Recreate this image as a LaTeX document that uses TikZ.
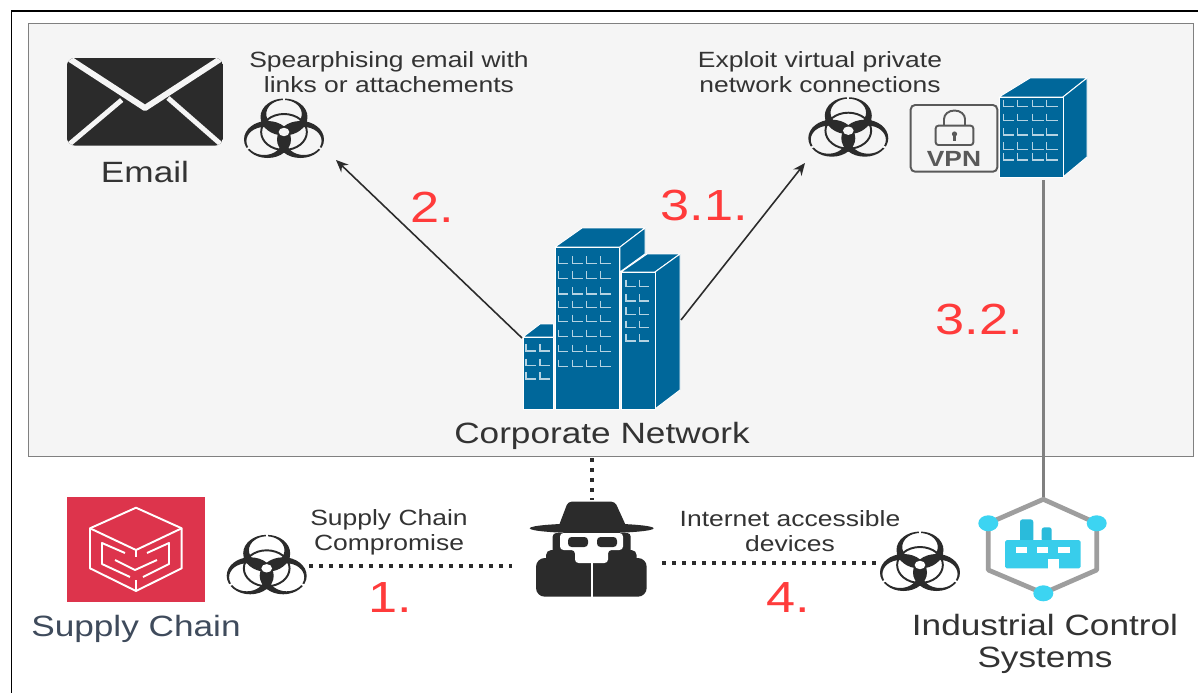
\documentclass[tikz,border=0pt]{standalone}
\usepackage{fontspec}
\setmainfont[FakeStretch=1.2]{Liberation Sans}
\usetikzlibrary{arrows.meta}
\definecolor{panel}{HTML}{F5F5F5}
\definecolor{ink}{HTML}{2B2B2B}
\definecolor{txt}{HTML}{333333}
\definecolor{bldg}{HTML}{00679A}
\definecolor{win}{HTML}{B5D3E2}
\definecolor{redtxt}{HTML}{FF3B3B}
\definecolor{awsred}{HTML}{DD344C}
\definecolor{slate}{HTML}{3F4B5C}
\definecolor{cyandot}{HTML}{3CD4F2}
\definecolor{stack}{HTML}{2ABBDB}
\definecolor{fact}{HTML}{38CDEB}
\tikzset{
  x=0.02cm,y=-0.02cm,
  lab/.style={font=\fontsize{12.55pt}{14pt}\selectfont,text=txt,align=center,inner sep=0pt},
  big/.style={font=\fontsize{16.7pt}{18pt}\selectfont,text=txt,align=center,inner sep=0pt},
  num/.style={font=\fontsize{24.8pt}{26pt}\selectfont,text=redtxt,inner sep=0pt},
  dots/.style={line width=2pt,dash pattern=on 2.2pt off 3.5pt,draw=ink},
  arrowline/.style={draw=ink,line width=0.9pt,-{Stealth[length=7pt,width=6pt]}},
  bface/.style={fill=bldg,draw=white,line width=0.55pt,line join=round},
}
\newcommand{\winrow}[3]{% x list, y list, width
  \foreach \wx in {#1}\foreach \wy in {#2}
    \draw[win,line width=0.75pt] (\wx,\wy-7) -- (\wx,\wy) -- (\wx+#3,\wy);}
\newcommand{\biohaz}[3]{% x,y,bg
  \begin{scope}[shift={(#1,#2)},xscale=1.27]
    \foreach \a in {270,30,150}{
      \fill[ink,even odd rule] (\a:15) circle[radius=18.5] (\a:18) circle[radius=14];
    }
    \draw[ink,line width=1.1pt] (0,0) circle[radius=18];
    \foreach \a in {90,210,330}{
      \fill[ink] (\a-18:3) -- (\a-6:21) -- (\a+6:21) -- (\a+18:3) -- cycle;
    }
    \foreach \a in {270,30,150}{
      \draw[#3,line width=1.1pt] (\a:30.5) -- (\a:35);
    }
    \fill[#3] (0,0) circle[radius=4.2];
  \end{scope}}
\begin{document}
\begin{tikzpicture}
\useasboundingbox (0,0) rectangle (1198,693);
\fill[white] (0,0) rectangle (1198,693);
% outer frame
\draw[black,line width=0.75pt] (11.5,693) -- (11.5,11) -- (1198,11);
% panel
\node[draw=black!50,line width=0.8pt,fill=panel,minimum width=0.02cm*1165,minimum height=0.02cm*433,inner sep=0pt,anchor=north west] (panel) at (28,23) {};

% ---------- email
\begin{scope}
  \clip[rounded corners=5pt] (66.7,57.7) rectangle (223.3,145.7);
  \fill[ink] (66.7,57.7) rectangle (223.3,145.7);
  \draw[panel,line width=3.4pt,line join=round] (62,54) -- (145,108) -- (228,54);
  \draw[panel,line width=2.8pt] (121.7,100) -- (66,147);
  \draw[panel,line width=2.8pt] (168,98) -- (224,147);
\end{scope}
\node[big] (email) at (145,172) {Email};
\biohaz{284}{132}{panel}
\node[lab] (spear) at (389,72) {Spearphising email with\\links or attachements};

% ---------- VPN
\biohaz{848.3}{130.7}{panel}
\node[lab] (vpnlabel) at (820,72) {Exploit virtual private\\network connections};
\draw[rounded corners=2.5pt,draw=black!65,line width=1.1pt,fill=panel] (910.7,105) rectangle (997.3,171.7);
\draw[black!65,line width=1.1pt,rounded corners=1.5pt] (935.7,125.7) rectangle (973.3,145);
\draw[black!65,line width=1.1pt] (944,125.7) -- (944,119) arc[start angle=180,end angle=360,x radius=10.5,y radius=8.5] -- (965,125.7);
\fill[black!65] (954.5,134) circle[radius=2.6];
\fill[black!65] (952.8,134) rectangle (956.2,141);
\node[font=\bfseries\fontsize{12.5pt}{14pt}\selectfont,text=black!65,inner sep=0pt] (vpntxt) at (954,159) {VPN};
\path[bface] (999,97) -- (1030,78) -- (1087,78) -- (1063,97) -- cycle;
\path[bface] (1063,97) -- (1087,78) -- (1087,157) -- (1063,177) -- cycle;
\path[bface] (999,97) rectangle (1063,177);
\winrow{1003.3,1017.3,1032.7,1046.7}{106.7,120.7,135,149.3,160}{11}
\coordinate (vpnbottom) at (1043.5,180);

% ---------- corporate
\path[bface] (555,247) -- (582,228) -- (645,228) -- (620,247) -- cycle;
\path[bface] (620,247) -- (645,228) -- (645,254) -- (620,272) -- cycle;
\path[bface] (555,247) rectangle (619.5,409);
\path[bface] (621,272) -- (647,254) -- (680,254) -- (655,272) -- cycle;
\path[bface] (655,272) -- (680,254) -- (680,390) -- (655,409) -- cycle;
\path[bface] (621,272) rectangle (655,409);
\path[bface] (523,337) -- (540,324) -- (553.5,324) -- (553.5,337) -- cycle;
\path[bface] (523,337) rectangle (553.5,409);
\winrow{558.3,572.7,586.7,600.7}{263.3,278.3,294,307.7,321.7,336.7,351.7,366.7}{10}
\winrow{626,639.3}{286.7,301,314.3,327.7,341}{10}
\winrow{526,540}{351,365.7,379}{10}
\node[big] (corp) at (602,436) {Corporate Network};
\coordinate (corpL) at (522,338);
\coordinate (corpR) at (681,320);
\coordinate (bioA) at (336,160);
\coordinate (bioB) at (805,163);
\draw[arrowline] (corpL) -- (bioA);
\draw[arrowline] (corpR) -- (bioB);
\node[num] (n2) at (432,207) {2.};
\node[num] (n31) at (704,205) {3.1.};
\node[num] (n32) at (979,319) {3.2.};

% ---------- supply chain
\node[fill=awsred,minimum width=0.02cm*138.3,minimum height=0.02cm*105,inner sep=0pt,anchor=north west] (sc) at (66.7,496.7) {};
\begin{scope}[draw=white,line width=1.1pt,line join=round]
  \draw (136,507.7) -- (181.7,528.3) -- (181.7,568.3) -- (136,591) -- (90,568.3) -- (90,528.3) -- cycle;
  \draw (90,528.3) -- (136,550) -- (181.7,528.3);
  \draw (136,550) -- (136,556.7);
  \draw (125,553) -- (102,543) -- (102,564) -- (130,577);
  \draw (115,560) -- (135,570) -- (157,560);
  \draw (147,553) -- (169,543) -- (169,564) -- (143,577);
  \draw (136,580) -- (136,591);
\end{scope}
\node[big,text=slate] (sclabel) at (136,629) {Supply Chain};
\biohaz{266.7}{568.3}{white}
\node[lab] (sccomp) at (389,532) {Supply Chain\\Compromise};
\node[num] (n1) at (390,598) {1.};

% ---------- attacker
\fill[ink,rounded corners=2pt] (568,501.7) -- (615,501.7) -- (627,528) -- (558,528) -- cycle;
\fill[ink] (591.7,528.3) ellipse[x radius=62,y radius=5];
\fill[ink,rounded corners=2pt] (552.7,533) rectangle (630.7,560);
\fill[ink,rounded corners=3pt] (546,550) rectangle (636.7,575);
\fill[ink,rounded corners=5pt] (536,558) rectangle (646.7,596.7);
\fill[white,rounded corners=2pt] (560,533) -- (623,533) -- (623,550) -- (608,550) -- (608,563) -- (575,563) -- (575,550) -- (560,550) -- cycle;
\fill[ink,rounded corners=2pt] (568,537) rectangle (588,547);
\fill[ink,rounded corners=2pt] (597,537) rectangle (617,547);
\draw[white,line width=1.1pt] (591.7,563) -- (591.7,597);
\coordinate (spyT) at (592,500);
\coordinate (spyL) at (512,566);
\coordinate (spyR) at (662,563);
\coordinate (panelB) at (592,458);
\coordinate (bioC) at (309,566);
\coordinate (bioD) at (878,563);
\draw[dots] (panelB) -- (spyT);
\draw[dots] (bioC) -- (spyL);
\draw[dots] (spyR) -- (bioD);

% ---------- ICS
\biohaz{920}{565}{white}
\node[lab] (inet) at (790,531) {Internet accessible\\devices};
\node[num] (n4) at (788,598) {4.};
\coordinate (icstop) at (1043.5,499);
\draw[black!50,line width=1.7pt] (vpnbottom) -- (icstop);
\draw[black!38,line width=2.7pt,line join=round] (1043.3,499.3) -- (1096.7,523.3) -- (1096.7,570) -- (1043.3,593.3) -- (988.3,570) -- (988.3,523.3) -- cycle;
\fill[cyandot] (988.3,523.3) ellipse[x radius=10,y radius=8];
\fill[cyandot] (1096.7,523.3) ellipse[x radius=10,y radius=8];
\fill[cyandot] (1043.3,593.3) ellipse[x radius=10,y radius=8];
\fill[stack,rounded corners=1.5pt] (1020,519.3) rectangle (1033.3,542);
\fill[stack,rounded corners=1.5pt] (1041.7,527.3) rectangle (1051.7,542);
\fill[fact,rounded corners=1pt] (1005,540) rectangle (1080.7,568.3);
\fill[white] (1016,546.7) rectangle (1027.3,552.7);
\fill[white] (1037.3,546.7) rectangle (1048.3,552.7);
\fill[white] (1058.3,546.7) rectangle (1070,552.7);
\fill[white] (1048.3,559.3) rectangle (1059.3,568.5);
\node[big] (ics) at (1045,644) {Industrial Control\\Systems};
\end{tikzpicture}
\end{document}
